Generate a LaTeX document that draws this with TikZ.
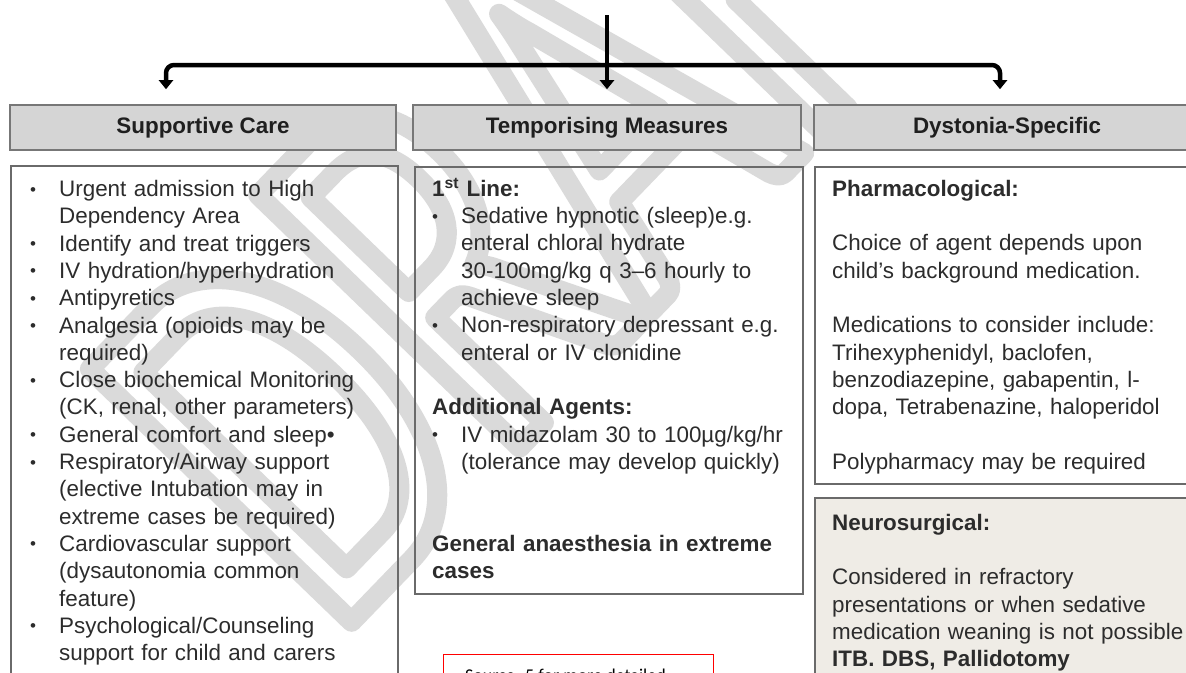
\documentclass[tikz,border=0pt]{standalone}
\usepackage{fontspec}
\setmainfont{Liberation Sans}
\newfontfamily\wmfont[FakeStretch=0.69]{Carlito}
\newfontfamily\notefont{Carlito}
\usetikzlibrary{arrows.meta}

\definecolor{hdrfill}{HTML}{D5D5D5}
\definecolor{hdrline}{HTML}{777777}
\definecolor{boxline}{HTML}{6A6A6A}
\definecolor{txtgray}{HTML}{2C2C2C}
\definecolor{neurofill}{HTML}{EFECE6}
\definecolor{wmgray}{HTML}{DADADA}

% list helpers for the panels
\newcommand{\topstrut}{\rule{0pt}{19pt}}
\newcommand{\smallbullet}{\raisebox{1.5pt}{\fontsize{17}{17}\selectfont\textbullet}}
\newcommand{\bitem}[2][320pt]{\par\noindent\makebox[29pt][l]{\smallbullet}%
  \parbox[t]{#1}{\strut#2\strut}\par}
\newcommand{\skipln}{\par\vspace{27.3pt}}
% hollow letters for the watermark
\newcommand{\outlinetext}[1]{\special{pdf:literal direct 1 Tr 20 w 1 j 1 J 0.855 G}#1%
  \special{pdf:literal direct 0 Tr}}

\begin{document}
\begin{tikzpicture}[x=1pt,y=-1pt,
  font=\fontsize{22.4}{27.3}\selectfont,
  hdr/.style={draw=hdrline,line width=1.6pt,fill=hdrfill,minimum height=45pt,
              inner sep=0pt,font=\fontsize{22.4}{27.3}\selectfont\bfseries,text=black!88},
  panel/.style={draw=boxline,line width=1.6pt,inner sep=0pt,anchor=north west},
  txt/.style={anchor=north west,inner sep=0pt,text width=#1,text=txtgray},
  link/.style={line width=4.5pt,-{Triangle[width=14pt,length=9pt]},
               shorten >=15pt,rounded corners=8pt},
  wmark/.style={rotate=46,inner sep=0pt,anchor=base west,text=wmgray,
                font=\wmfont\fontsize{567}{567}\selectfont},
  notebox/.style={draw=red,line width=1pt,inner sep=0pt,anchor=north west},
]
\useasboundingbox (0,0) rectangle (1186,672);

% watermark, under the header fills
\node[wmark] (wm) at (333,641) {\outlinetext{DRAFT}};

% column headers
\node[hdr,minimum width=386pt] (hsupp) at (203,127.5) {Supportive Care};
\node[hdr,minimum width=388pt] (htemp) at (607,127.5) {Temporising Measures};
\node[hdr,minimum width=386pt] (hdyst) at (1007,127.5) {Dystonia-Specific};

% branching arrows
\coordinate (src) at (607,15);
\coordinate (lturn) at (166,65);
\coordinate (rturn) at (1000,65);
\draw[link] (src) -- (htemp.north);
\draw[link] (src |- lturn) -- (lturn) -- (lturn |- hsupp.north);
\draw[link] (src |- rturn) -- (rturn) -- (rturn |- hdyst.north);

% panel frames
\node[panel,minimum width=387pt,minimum height=540pt] (psupp) at (10,165) {};
\node[panel,minimum width=388pt,minimum height=427pt] (ptemp) at (414,166) {};
\node[panel,minimum width=400pt,minimum height=317pt] (ppharm) at (814,166) {};
\node[panel,fill=neurofill,minimum width=400pt,minimum height=200pt] (pneuro) at (814,497) {};
\node[notebox,minimum width=270pt,minimum height=40pt] (note) at (443,654) {};

% supportive care
\node[txt=360pt] (tsupp) at (30,169) {\lineskip=0pt
  \bitem{Urgent admission to High\\Dependency Area}
  \bitem{Identify and treat triggers}
  \bitem{IV hydration/hyperhydration}
  \bitem{Antipyretics}
  \bitem{Analgesia (opioids may be\\required)}
  \bitem{Close biochemical Monitoring\\(CK, renal, other parameters)}
  \bitem{General comfort and sleep\textbullet}
  \bitem{Respiratory/Airway support\\(elective Intubation may in\\extreme cases be required)}
  \bitem{Cardiovascular support\\(dysautonomia common\\feature)}
  \bitem{Psychological/Counseling\\support for child and carers}};

% temporising measures
\node[txt=365pt] (ttemp) at (432,177) {\lineskip=0pt
  \strut\textbf{1\textsuperscript{st} Line:}\par
  \bitem[335pt]{Sedative hypnotic (sleep)e.g.\\enteral chloral hydrate\\30-100mg/kg q 3--6 hourly to\\achieve sleep}
  \bitem[335pt]{Non-respiratory depressant e.g.\\enteral or IV clonidine}
  \skipln
  \strut\textbf{Additional Agents:}\par
  \bitem[335pt]{IV midazolam 30 to 100µg/kg/hr\\(tolerance may develop quickly)}
  \skipln\vspace{27.3pt}
  \strut\textbf{General anaesthesia in extreme\\cases}};

% dystonia-specific
\node[txt=360pt] (tpharm) at (832,177) {%
  \topstrut\textbf{Pharmacological:}\skipln
  Choice of agent depends upon\\child's background medication.\skipln
  Medications to consider include:\\Trihexyphenidyl, baclofen,\\
  benzodiazepine, gabapentin, l-\\dopa, Tetrabenazine, haloperidol\skipln
  Polypharmacy may be required};
\node[txt=360pt] (tneuro) at (832,511) {%
  \topstrut\textbf{Neurosurgical:}\skipln
  Considered in refractory\\presentations or when sedative\\
  medication weaning is not possible\\
  \textbf{ITB. DBS, Pallidotomy}};

\node[anchor=north west,inner sep=0pt,font=\notefont\fontsize{18}{22}\selectfont]
  (tnote) at (465,669) {Source: 5 for more detailed};
\end{tikzpicture}
\end{document}
